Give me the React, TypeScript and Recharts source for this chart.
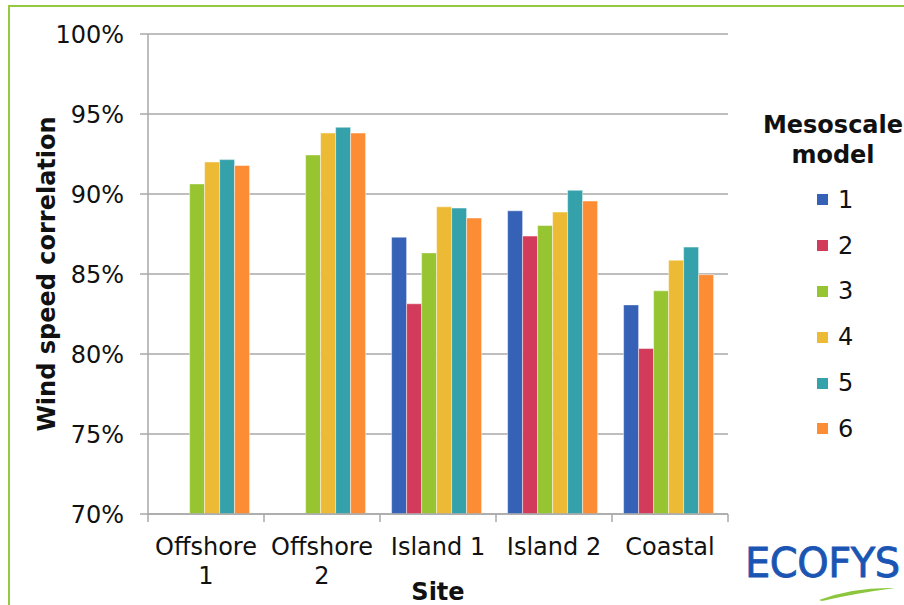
import {
  Bar,
  BarChart,
  CartesianGrid,
  Legend,
  XAxis,
  YAxis,
} from "recharts";

const sites = ["Offshore 1", "Offshore 2", "Island 1", "Island 2", "Coastal"];
const models = ["1", "2", "3", "4", "5", "6"];
const colors = ["#3562B6", "#D23C5A", "#97C532", "#EDBA36", "#35A2AB", "#FD8D35"];

// correlation in %, null = model not run for that site
const model1 = [null, null, 87.3, 88.95, 83.07];
const model2 = [null, null, 83.14, 87.37, 80.34];
const model3 = [90.63, 92.44, 86.32, 88.03, 83.95];
const model4 = [92.0, 93.81, 89.2, 88.87, 85.86];
const model5 = [92.15, 94.17, 89.12, 90.23, 86.68];
const model6 = [91.78, 93.81, 88.5, 89.56, 84.96];

const yTicks = [70, 75, 80, 85, 90, 95, 100];

const series = [model1, model2, model3, model4, model5, model6];
const data = sites.map((site, i) => {
  const row: Record<string, string | number | null> = { site };
  models.forEach((m, k) => {
    row["m" + m] = series[k][i];
  });
  return row;
});

const FONT = "'DejaVu Sans', Verdana, sans-serif";
const GRID = "#A8A8A8";

// greedy word wrap, Excel breaks "Offshore 1" but keeps "Island 1"
function wrap(label: string, maxChars = 8) {
  const lines: string[] = [];
  label.split(" ").forEach((w) => {
    const last = lines[lines.length - 1];
    if (last !== undefined && (last + " " + w).length <= maxChars) lines[lines.length - 1] = last + " " + w;
    else lines.push(w);
  });
  return lines;
}

function SiteTick(props: any) {
  const { x, y, payload, index, visibleTicksCount } = props;
  const half = payload.offset ?? 58;
  const axisY = y - 8;
  const lines = wrap(String(payload.value));
  return (
    <g>
      <line x1={x - half} x2={x - half} y1={axisY} y2={axisY + 8} stroke={GRID} strokeWidth={1.5} />
      {index === visibleTicksCount - 1 && (
        <line x1={x + half} x2={x + half} y1={axisY} y2={axisY + 8} stroke={GRID} strokeWidth={1.5} />
      )}
      <text x={x} y={y + 33} textAnchor="middle" style={{ fontFamily: FONT, fontSize: 24 }} fill="#111">
        {lines.map((ln, i) => (
          <tspan key={i} x={x} dy={i === 0 ? 0 : 29}>
            {ln}
          </tspan>
        ))}
      </text>
    </g>
  );
}

function renderLegend(props: any) {
  const items = props.payload || [];
  return (
    <div style={{ fontFamily: FONT, color: "#111" }}>
      <div
        style={{
          fontWeight: "bold",
          fontSize: 24,
          lineHeight: "30px",
          textAlign: "center",
          width: 170,
          marginBottom: 7,
        }}
      >
        Mesoscale
        <br />
        model
      </div>
      {items.map((it: any) => (
        <div
          key={it.value}
          style={{ display: "flex", alignItems: "center", height: 45.8, paddingLeft: 69 }}
        >
          <span
            style={{ width: 11, height: 11, background: it.color, display: "inline-block", marginRight: 10 }}
          />
          <span style={{ fontSize: 24 }}>{it.value}</span>
        </div>
      ))}
    </div>
  );
}

export default function App() {
  return (
    <div
      style={{
        position: "absolute",
        left: 0,
        top: 0,
        width: 904,
        height: 605,
        background: "#fff",
        overflow: "hidden",
        fontFamily: FONT,
      }}
    >
      <div
        style={{
          position: "absolute",
          left: 8,
          top: 5,
          right: -10,
          bottom: -10,
          borderTop: "2px solid #96C93D",
          borderLeft: "2px solid #96C93D",
        }}
      />
      <BarChart
        width={904}
        height={605}
        data={data}
        margin={{ top: 34, right: 176, bottom: 0, left: 0 }}
        barCategoryGap="10%"
        barGap={0}
      >
        <CartesianGrid horizontal vertical={false} stroke={GRID} strokeWidth={1.5} />
        <XAxis
          dataKey="site"
          height={91}
          interval={0}
          tickLine={false}
          axisLine={{ stroke: GRID, strokeWidth: 1.5 }}
          tick={<SiteTick />}
          label={{
            value: "Site",
            position: "insideBottom",
            offset: 5,
            style: { fontFamily: FONT, fontSize: 24, fontWeight: "bold", fill: "#111" },
          }}
        />
        <YAxis
          width={148}
          domain={[70, 100]}
          ticks={yTicks}
          interval={0}
          allowDataOverflow
          tickFormatter={(v: number) => `${v}%`}
          tickSize={8}
          tickMargin={16}
          tickLine={{ stroke: GRID, strokeWidth: 1.5 }}
          axisLine={{ stroke: GRID, strokeWidth: 1.5 }}
          tick={{ fontFamily: FONT, fontSize: 24, fill: "#111" }}
          label={{
            content: (p: any) => {
              const vb = p.viewBox || {};
              const cy = (vb.y ?? 34) + (vb.height ?? 480) / 2;
              return (
                <text
                  x={47}
                  y={cy}
                  transform={`rotate(-90, 47, ${cy})`}
                  textAnchor="middle"
                  dominantBaseline="central"
                  style={{ fontFamily: FONT, fontSize: 24, fontWeight: "bold", fill: "#111" }}
                >
                  Wind speed correlation
                </text>
              );
            },
          }}
        />
        <Legend
          layout="vertical"
          align="center"
          verticalAlign="middle"
          wrapperStyle={{ left: 748, top: 110, width: 170 }}
          content={renderLegend}
        />
        {models.map((m, k) => (
          <Bar
            key={m}
            dataKey={"m" + m}
            name={m}
            fill={colors[k]}
            stroke="rgba(255,255,255,0.45)"
            strokeWidth={1}
            isAnimationActive={false}
          />
        ))}
      </BarChart>
      <div style={{ position: "absolute", left: 745, top: 540, width: 159, height: 65 }}>
        <div
          style={{
            fontFamily: FONT,
            fontSize: 40,
            color: "#1B55B3",
            letterSpacing: -0.5,
            lineHeight: "46px",
            WebkitTextStroke: "0.8px #1B55B3",
          }}
        >
          ECOFYS
        </div>
        <svg width={159} height={20} style={{ position: "absolute", left: 0, top: 46 }}>
          <path d="M74 14 Q108 1 150 2 Q112 7 77 15 Z" fill="#8CC63F" />
        </svg>
      </div>
    </div>
  );
}
